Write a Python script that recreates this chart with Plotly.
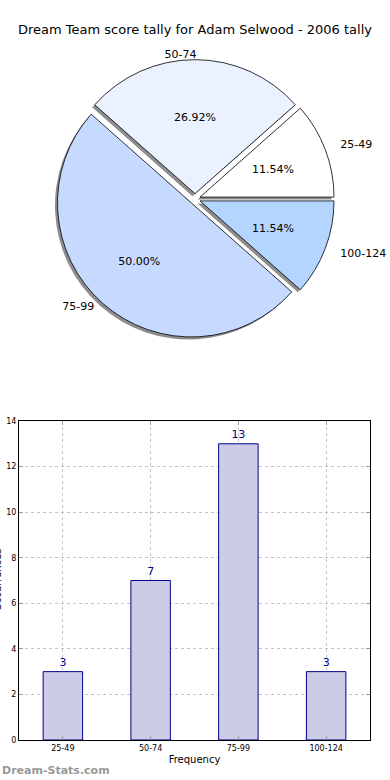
import plotly.graph_objects as go

categories = ["25-49", "50-74", "75-99", "100-124"]
counts = [3, 7, 13, 3]
pie_colors = ["#ffffff", "#eaf2ff", "#c6d9ff", "#b3d5ff"]
title_text = "Dream Team score tally for Adam Selwood - 2006 tally"
y_title = "Occurrences"
x_title = "Frequency"
y_ticks = [0, 2, 4, 6, 8, 10, 12, 14]

W, H = 390, 780
FONT = "DejaVu Sans"

def px_x(a, b):
    return [a / W, b / W]

def px_y(top, bottom):
    return [1 - bottom / H, 1 - top / H]

def fx(x):
    return x / W

def fy(y):
    return 1 - y / H

# plotly (counterclockwise) places the first slice clockwise of the rotation point,
# so rotate so that the first slice begins at 3 o'clock like matplotlib's startangle=0
rot = 90 - 360 * counts[0] / sum(counts)

cx, cy, R = 195, 199, 134
p = 0.04
pull = [p] * len(categories)

def dom(factor, dx=0, dy=0):
    d = R * factor * (1 + p)
    return dict(x=px_x(cx - d + dx, cx + d + dx), y=px_y(cy - d + dy, cy + d + dy))

def pie(**kw):
    base = dict(labels=categories, values=counts, sort=False, direction="counterclockwise",
                rotation=rot, pull=pull, showlegend=False, hoverinfo="skip",
                insidetextorientation="horizontal", automargin=False,
                textfont=dict(family=FONT, size=11, color="#000000"))
    base.update(kw)
    return go.Pie(**base)

clear = dict(colors=["rgba(0,0,0,0)"] * 4, line=dict(width=0))
pct = "%{percent:.2%}"
lab = "%{label}"

fig = go.Figure()
# shadow
fig.add_trace(pie(marker=dict(colors=["rgba(80,80,80,0.65)"] * 4, line=dict(width=0)),
                  textinfo="none", domain=dom(1.0, -2.5, 2.5)))
# main pie
fig.add_trace(pie(marker=dict(colors=pie_colors, line=dict(color="#000000", width=0.8)),
                  texttemplate=["", pct, "", ""], textposition="inside", domain=dom(1.0)))
# percentage labels for the small slices (closer to the centre)
fig.add_trace(pie(marker=clear, texttemplate=[pct, "", "", pct], textposition="inside",
                  domain=dom(0.8)))
# percentage label for the big slice (further out)
fig.add_trace(pie(marker=clear, texttemplate=["", "", pct, ""], textposition="inside",
                  domain=dom(1.16)))
# category labels outside
fig.add_trace(pie(marker=clear, texttemplate=[lab, "", "", lab], textposition="outside",
                  domain=dom(1.09)))
fig.add_trace(pie(marker=clear, texttemplate=["", lab, "", ""], textposition="outside",
                  rotation=rot - 0.5, domain=dom(0.99, 6, 0)))
fig.add_trace(pie(marker=clear, texttemplate=["", "", lab, ""], textposition="outside",
                  domain=dom(1.0, -5, 0)))

fig.add_trace(go.Bar(
    x=categories, y=counts, width=0.45,
    marker=dict(color="#cccce6", line=dict(color="#00008b", width=1)),
    text=[str(v) for v in counts], textposition="outside",
    textfont=dict(family=FONT, size=11, color="#00008b"),
    cliponaxis=False, showlegend=False,
    xaxis="x", yaxis="y",
))

fig.update_layout(
    width=W, height=H,
    margin=dict(l=0, r=0, t=0, b=0, autoexpand=False),
    paper_bgcolor="white", plot_bgcolor="white",
    font=dict(family=FONT, color="#000000"),
    xaxis=dict(domain=px_x(19, 370), anchor="y", automargin=False,
               showline=True, linecolor="black", linewidth=1, mirror="ticks",
               ticks="inside", ticklen=4, tickcolor="#999",
               tickfont=dict(size=8, family=FONT),
               showgrid=True, gridcolor="#c4c4c4", griddash="dot", gridwidth=1,
               title=dict(text=x_title, font=dict(size=10, family=FONT), standoff=4)),
    yaxis=dict(domain=px_y(421, 740), anchor="x", range=[0, 14], automargin=False,
               tickvals=y_ticks,
               showline=True, linecolor="black", linewidth=1, mirror="ticks",
               ticks="inside", ticklen=4, tickcolor="#999",
               tickfont=dict(size=8, family=FONT),
               showgrid=True, gridcolor="#c4c4c4", griddash="dot", gridwidth=1,
               zeroline=False),
    uniformtext=dict(minsize=11, mode="show"),
)

# y-axis title sits mostly beyond the left edge, as in the original
fig.add_annotation(text=y_title, xref="paper", yref="paper", textangle=-90,
                   x=fx(-3), y=fy(580), xanchor="center", yanchor="middle",
                   showarrow=False, font=dict(family=FONT, size=10, color="#000000"))

fig.add_annotation(text=title_text, xref="paper", yref="paper",
                   x=fx(195), y=fy(30), xanchor="center", yanchor="middle",
                   showarrow=False, font=dict(family=FONT, size=13, color="#000000"))

fig.add_annotation(text="<b>Dream-Stats.com</b>", xref="paper", yref="paper",
                   x=0, y=fy(770), xanchor="left", yanchor="middle",
                   showarrow=False, font=dict(family=FONT, size=11, color="#999999"))

fig.write_html("out.html", config={"displayModeBar": False},
               post_script="document.body.style.margin='0';")
